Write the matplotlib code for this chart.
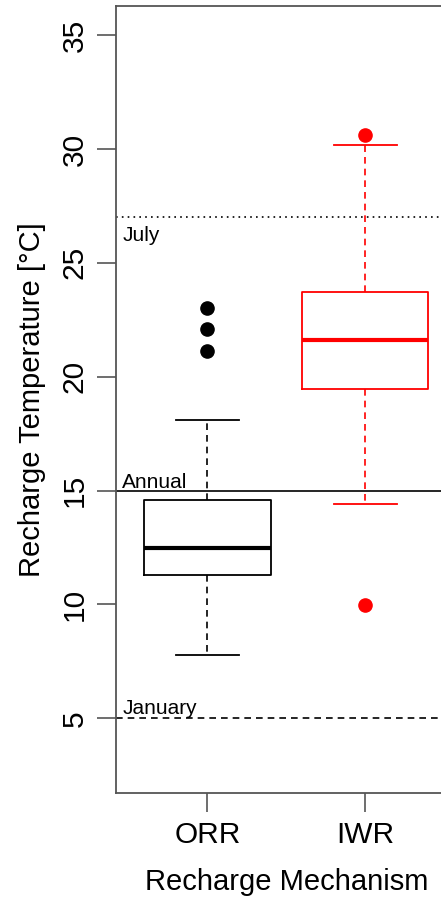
import matplotlib
matplotlib.use("Agg")
import matplotlib.pyplot as plt

plt.rcParams['font.family'] = ['Liberation Sans', 'DejaVu Sans']

# Dados
grupos = ['ORR', 'IWR']
cores = ['black', 'red']
q1 = [11.30, 19.46]
mediana = [12.46, 21.62]
q3 = [14.57, 23.71]
bigode_inf = [7.78, 14.43]
bigode_sup = [18.11, 30.18]
outliers_orr = [23.01, 22.09, 21.15]
outliers_iwr = [30.61, 9.96]
outliers = [outliers_orr, outliers_iwr]

referencias = [27, 15, 5]
nomes_ref = ['July', 'Annual', 'January']
estilos_ref = [(0, (1, 2.5)), '-', (0, (4, 3))]

fig = plt.figure(figsize=(4.41, 8.98), dpi=100)
ax = fig.add_axes([116 / 441, 1 - 793 / 898, (456.6 - 116) / 441, 787 / 898])

for i in range(len(grupos)):
    stats = [{'q1': q1[i], 'med': mediana[i], 'q3': q3[i],
              'whislo': bigode_inf[i], 'whishi': bigode_sup[i],
              'fliers': outliers[i], 'label': grupos[i]}]
    c = cores[i]
    ax.bxp(stats, positions=[i + 1], widths=0.8, showfliers=True,
           boxprops=dict(color=c, linewidth=1.3),
           medianprops=dict(color=c, linewidth=3),
           whiskerprops=dict(color=c, linewidth=1.2, linestyle=(0, (4, 3))),
           capprops=dict(color=c, linewidth=1.3),
           flierprops=dict(marker='o', markerfacecolor=c, markeredgecolor=c,
                           markersize=9.5, linestyle='none'),
           capwidths=0.4, manage_ticks=False)

# Linhas de referência
for v, nome, ls in zip(referencias, nomes_ref, estilos_ref):
    ax.axhline(v, color='black', linewidth=1.2, linestyle=ls, zorder=1)
ax.text(0.46, 26.6, 'July', fontsize=15, va='top', ha='left')
ax.text(0.46, 15.13, 'Annual', fontsize=15, va='baseline', ha='left')
ax.text(0.46, 5.17, 'January', fontsize=15, va='baseline', ha='left')

ax.set_xlim(0.42, 2.58)
ax.set_ylim(1.72, 36.28)
ax.set_xticks([1, 2])
ax.set_xticklabels(grupos)
ax.set_yticks([5, 10, 15, 20, 25, 30, 35])
ax.set_yticklabels(['5', '10', '15', '20', '25', '30', '35'], rotation=90, va='center')
ax.tick_params(axis='both', labelsize=21.5, length=13.5, width=1.2, color='#555555', pad=6)
ax.tick_params(axis='x', pad=7)
for s in ax.spines.values():
    s.set_color('#555555')
    s.set_linewidth(1.3)

ax.set_ylabel('Recharge Temperature [°C]', fontsize=21, labelpad=11)
ax.set_xlabel('Recharge Mechanism', fontsize=21, labelpad=13)

fig.savefig('out.png', dpi=100)
